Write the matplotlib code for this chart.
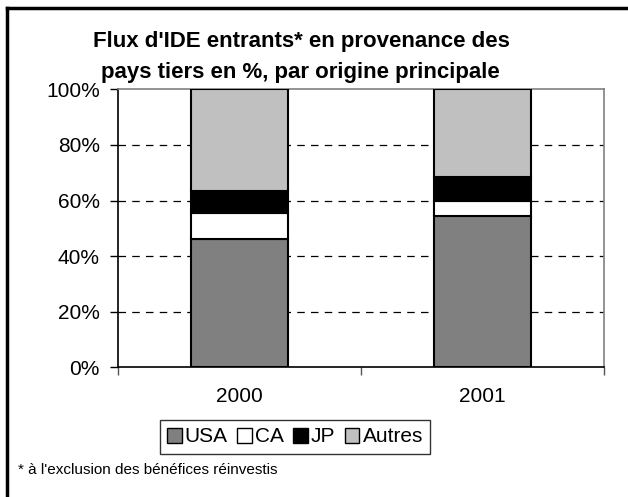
import matplotlib.pyplot as plt
from matplotlib.lines import Line2D
from matplotlib.patches import Patch

plt.rcParams['font.family'] = ['Liberation Sans', 'DejaVu Sans']

# data (percent)
years = ["2000", "2001"]
usa = [46.1, 54.3]
ca = [9.3, 5.5]
jp = [7.9, 8.6]
autres = [36.7, 31.6]

series = [("USA", usa, "#808080"), ("CA", ca, "#ffffff"),
          ("JP", jp, "#000000"), ("Autres", autres, "#c0c0c0")]

fig = plt.figure(figsize=(6.28, 4.97), dpi=100)
W, H = 628, 497
ax = fig.add_axes([118 / W, 1 - 367.3 / H, 486 / W, 278 / H])

x = list(range(len(years)))
bottom = [0.0] * len(years)
for name, vals, col in series:
    ax.bar(x, vals, width=0.40, bottom=bottom, color=col,
           edgecolor="black", linewidth=1.5, label=name, zorder=3)
    bottom = [b + v for b, v in zip(bottom, vals)]

ax.set_xlim(-0.5, len(years) - 0.5)
ax.set_ylim(0, 100)
ax.set_yticks([0, 20, 40, 60, 80, 100])
ax.set_yticklabels(["0%", "20%", "40%", "60%", "80%", "100%"], fontsize=15)
for yv in [20, 40, 60, 80]:
    ax.axhline(yv, color="black", linestyle=(0, (6, 5)), linewidth=0.9, zorder=1)

# category boundaries get tick marks, labels sit in the middle
ax.set_xticks([-0.5, 0.5, 1.5])
ax.set_xticklabels(["", "", ""])
ax.set_xticks(x, minor=True)
ax.set_xticklabels(years, minor=True, fontsize=15)
ax.tick_params(axis="x", which="major", length=6, width=1, color="#555555")
ax.tick_params(axis="x", which="minor", length=0, pad=14)
ax.tick_params(axis="y", length=6, width=1, pad=7)

ax.spines["left"].set_color("black")
ax.spines["bottom"].set_color("black")
ax.spines["top"].set_color("#808080")
ax.spines["right"].set_color("#808080")
for s in ax.spines.values():
    s.set_linewidth(1.2)

fig.text(301 / W, 1 - 42 / H, "Flux d'IDE entrants* en provenance des",
         ha="center", va="center", fontsize=16, fontweight="bold")
fig.text(300 / W, 1 - 72 / H, "pays tiers en %, par origine principale",
         ha="center", va="center", fontsize=16, fontweight="bold")

handles = [Patch(facecolor=c, edgecolor="black", linewidth=1, label=n)
           for n, _, c in series]
leg = fig.legend(handles=handles, loc="center", bbox_to_anchor=(295 / W, 1 - 437 / H),
                 ncol=4, fontsize=15, frameon=True, fancybox=False,
                 handlelength=0.7, handleheight=0.7, handletextpad=0.15,
                 columnspacing=0.45, borderpad=0.35, borderaxespad=0)
leg.get_frame().set_edgecolor("black")
leg.get_frame().set_linewidth(1)

fig.text(18 / W, 1 - 470 / H, "* à l'exclusion des bénéfices réinvestis",
         ha="left", va="center", fontsize=11)

# outer frame, only top and left edges visible in the crop
fig.add_artist(Line2D([7 / W, 1], [1 - 8 / H, 1 - 8 / H], color="black", linewidth=2.5))
fig.add_artist(Line2D([7 / W, 7 / W], [0, 1 - 8 / H], color="black", linewidth=2.5))

fig.savefig("out.png", dpi=100)
